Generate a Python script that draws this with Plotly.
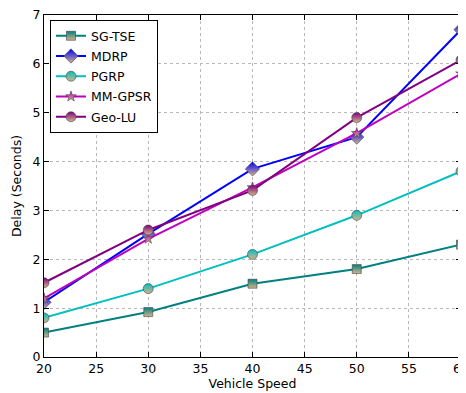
import plotly.graph_objects as go

speed = [20, 30, 40, 50, 60]
sg_tse = [0.5, 0.92, 1.5, 1.8, 2.3]
mdrp = [1.12, 2.52, 3.85, 4.5, 6.7]
pgrp = [0.8, 1.4, 2.1, 2.9, 3.8]
mm_gpsr = [1.2, 2.42, 3.47, 4.58, 5.8]
geo_lu = [1.52, 2.6, 3.41, 4.9, 6.08]

names = ["SG-TSE", "MDRP", "PGRP", "MM-GPSR", "Geo-LU"]
series = [sg_tse, mdrp, pgrp, mm_gpsr, geo_lu]
colors = ["#008080", "#0000ff", "#00bfbf", "#bf00bf", "#800080"]
symbols = ["square", "diamond", "circle", "star", "circle"]
sizes = [9, 11, 10, 8, 10]
TAN = "#d2b48c"

fig = go.Figure()
for n, ys, c, s, sz in zip(names, series, colors, symbols, sizes):
    fig.add_trace(go.Scatter(
        x=speed, y=ys, name=n, mode="lines+markers", legendgroup=n,
        line=dict(color=c, width=2),
        marker=dict(symbol=s, size=sz, color=c,
                    gradient=dict(type="vertical", color=TAN),
                    line=dict(color="#444444", width=0.6)),
    ))

font = "DejaVu Sans, sans-serif"
fig.update_layout(
    width=458, height=385,
    margin=dict(l=36, r=5, t=7, b=36),
    paper_bgcolor="white", plot_bgcolor="white",
    font=dict(family=font, size=12, color="black"),
    showlegend=True,
    legend=dict(x=0.0144, y=0.985, xanchor="left", yanchor="top",
                bgcolor="white", bordercolor="black", borderwidth=1,
                font=dict(size=12.5), tracegroupgap=1, itemwidth=30,
                traceorder="grouped"),
)
axis_common = dict(
    showline=True, linecolor="black", linewidth=1, mirror="allticks",
    ticks="inside", ticklen=5, tickcolor="black",
    showgrid=True, gridcolor="#b8b8b8", griddash="dot", gridwidth=1,
    zeroline=False, automargin=False, ticklabeloverflow="allow",
    tickfont=dict(size=12.5),
)
fig.update_xaxes(range=[20, 60], dtick=5, tick0=20,
                 title=dict(text="Vehicle Speed", standoff=3, font=dict(size=12.5)),
                 **axis_common)
fig.update_yaxes(range=[0, 7], dtick=1, tick0=0,
                 title=dict(text="Delay (Seconds)", standoff=8, font=dict(size=12.5)),
                 **axis_common)

fig.write_html("out.html")
